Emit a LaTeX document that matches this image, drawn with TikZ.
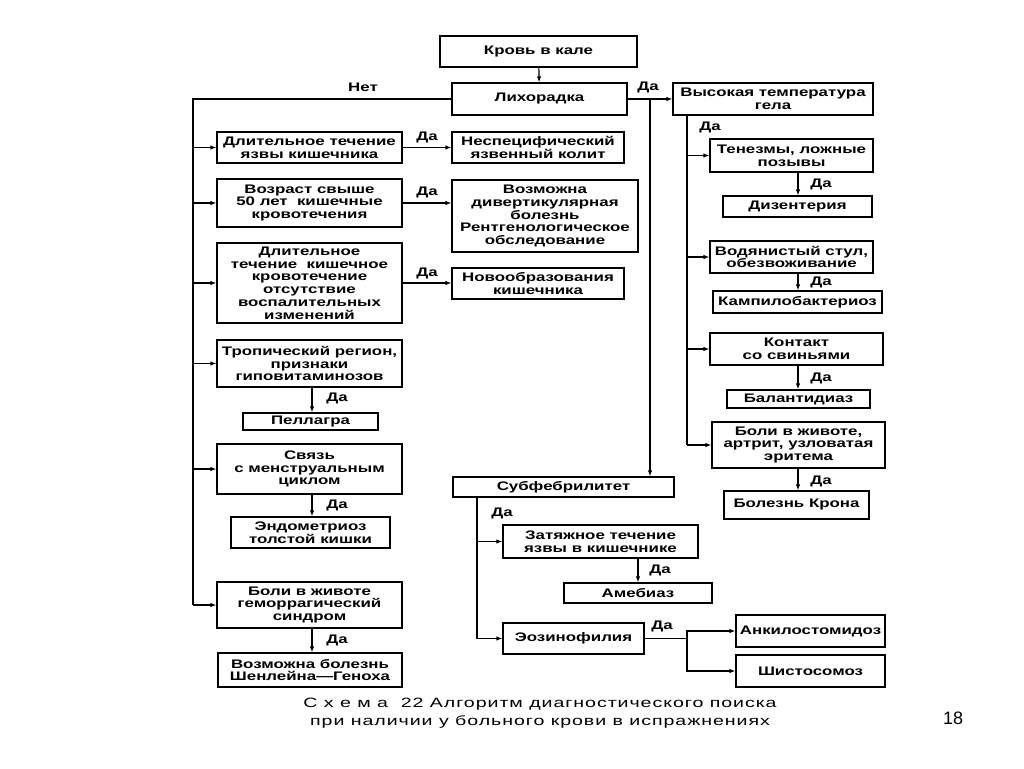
\documentclass[tikz,border=0pt]{standalone}
\usepackage{fontspec}
\usetikzlibrary{arrows.meta}
\newfontfamily\boxfont[FakeStretch=1.36]{Liberation Sans}
\newfontfamily\capfont[FakeStretch=1.45,LetterSpace=7]{Liberation Sans}
\newfontfamily\numfont{Liberation Sans}
\tikzset{
  box/.style={draw, line width=1.2pt, align=center, inner sep=0pt,
    font=\boxfont\bfseries\fontsize{12.4}{12.8}\selectfont},
  ln/.style={line width=1.2pt},
  arr/.style={line width=1.2pt, -{Latex[length=6pt,width=4.5pt]}},
  lbl/.style={font=\boxfont\bfseries\fontsize{12.4}{12.8}\selectfont, inner sep=0pt},
}
\newcommand\bx[6]{\node[box, minimum width={(#4)-(#2)}, minimum height={(#5)-(#3)}] (#1) at ({((#2)+(#4))/2},{((#3)+(#5))/2}) {#6};}
\begin{document}
\begin{tikzpicture}[x=1pt,y=-1pt]
\useasboundingbox (0,0) rectangle (1024,768);
% boxes
\bx{krov}{440}{36}{637}{67}{Кровь в кале}
\bx{lih}{452}{83}{627}{115}{Лихорадка}
\bx{vys}{673}{83}{873}{115}{Высокая температура\\гела}
\bx{dlit}{217}{132}{402}{163}{Длительное течение\\язвы кишечника}
\bx{nesp}{452}{132}{624}{163}{Неспецифический\\язвенный колит}
\bx{vozr}{217}{179}{402}{227}{Возраст свыше\\50 лет\ \ кишечные\\кровотечения}
\bx{divert}{452}{180}{638}{252}{Возможна\\дивертикулярная\\болезнь\\Рентгенологическое\\обследование}
\bx{dlit2}{217}{243}{402}{323}{Длительное\\течение\ \ кишечное\\кровотечение\\отсутствие\\воспалительных\\изменений}
\bx{novo}{452}{268}{624}{299}{Новообразования\\кишечника}
\bx{trop}{217}{340}{402}{387}{Тропический регион,\\признаки\\гиповитаминозов}
\bx{pell}{243}{413}{378}{430}{Пеллагра}
\bx{sv}{217}{444}{402}{494}{Связь\\с менструальным\\циклом}
\bx{endo}{231}{517}{390}{548}{Эндометриоз\\толстой кишки}
\bx{boli}{217}{582}{402}{628}{Боли в животе\\геморрагический\\синдром}
\bx{shen}{218}{653}{402}{687}{Возможна болезнь\\Шенлейна—Геноха}
\bx{ten}{710}{139}{873}{172}{Тенезмы, ложные\\позывы}
\bx{diz}{723}{196}{872}{217}{Дизентерия}
\bx{vod}{710}{241}{873}{273}{Водянистый стул,\\обезвоживание}
\bx{kamp}{713}{291}{882}{313}{Кампилобактериоз}
\bx{kont}{710}{333}{883}{365}{Контакт\\со свиньями}
\bx{bal}{727}{390}{870}{408}{Балантидиаз}
\bx{bolk}{712}{422}{885}{468}{Боли в животе,\\артрит, узловатая\\эритема}
\bx{kron}{724}{491}{869}{519}{Болезнь Крона}
\bx{subf}{453}{477}{674}{497}{Субфебрилитет}
\bx{zat}{503}{525}{698}{558}{Затяжное течение\\язвы в кишечнике}
\bx{ameb}{564}{583}{712}{603}{Амебиаз}
\bx{eoz}{503}{623}{644}{654}{Эозинофилия}
\bx{ankil}{736}{615}{885}{647}{Анкилостомидоз}
\bx{shist}{736}{655}{885}{687}{Шистосомоз}
% guide coordinates
\coordinate (L) at (193,0);
\coordinate (R) at (650,0);
\coordinate (V) at (687,0);
\coordinate (D) at (798,0);
\coordinate (M) at (312,0);
\coordinate (S) at (477,0);
\coordinate (A) at (638,0);
\coordinate (E) at (687,0);
% top
\draw[arr] (krov) -- (lih);
\draw[ln] (lih.west) -| (boli.west -| L);
\node[lbl] (net) at (363,87) {Нет};
\foreach \n in {dlit,vozr,dlit2,trop,sv,boli} \draw[arr] (\n.west -| L) -- (\n.west);
% left horizontal Да
\draw[arr] (dlit.east) -- (dlit.east -| nesp.west);
\draw[arr] (vozr.east) -- (vozr.east -| divert.west);
\draw[arr] (dlit2.east) -- (dlit2.east -| novo.west);
\node[lbl] (d1) at (427,137) {Да};
\node[lbl] (d2) at (427,192) {Да};
\node[lbl] (d3) at (427,273) {Да};
% left down
\draw[arr] (trop.south -| M) -- (pell.north -| M);
\draw[arr] (sv.south -| M) -- (endo.north -| M);
\draw[arr] (boli.south -| M) -- (shen.north -| M);
\node[lbl] (d4) at (337,398) {Да};
\node[lbl] (d5) at (337,505) {Да};
\node[lbl] (d6) at (337,640) {Да};
% right
\draw[arr] (lih.east) -- (vys.west);
\node[lbl] (d7) at (648,87) {Да};
\draw[arr] (lih.east -| R) -- (subf.north -| R);
\draw[ln] (vys.south -| V) -- (bolk.west -| V);
\node[lbl] (d8) at (710,127) {Да};
\foreach \n in {ten,vod,kont,bolk} \draw[arr] (\n.west -| V) -- (\n.west);
\draw[arr] (ten.south -| D) -- (diz.north -| D);
\draw[arr] (vod.south -| D) -- (kamp.north -| D);
\draw[arr] (kont.south -| D) -- (bal.north -| D);
\draw[arr] (bolk.south -| D) -- (kron.north -| D);
\node[lbl] (d9) at (821,184) {Да};
\node[lbl] (d10) at (821,282) {Да};
\node[lbl] (d11) at (821,378) {Да};
\node[lbl] (d12) at (821,481) {Да};
% subfebrilitet
\draw[ln] (subf.south -| S) -- (eoz.west -| S);
\draw[arr] (zat.west -| S) -- (zat.west);
\draw[arr] (eoz.west -| S) -- (eoz.west);
\node[lbl] (d13) at (502,513) {Да};
\draw[arr] (zat.south -| A) -- (ameb.north -| A);
\node[lbl] (d14) at (660,570) {Да};
\draw[ln] (eoz.east) -- (eoz.east -| E);
\draw[arr] (eoz.east -| E) |- (ankil.west);
\draw[arr] (eoz.east -| E) |- (shist.west);
\node[lbl] (d15) at (662,626) {Да};
% caption
\node[font=\capfont\fontsize{13.5}{18}\selectfont, align=center, inner sep=0pt] (cap) at (540,713)
  {С х е м а\ \ 22 Алгоритм диагностического поиска\\при наличии у больного крови в испражнениях};
\node[font=\numfont\fontsize{18}{20}\selectfont, inner sep=0pt] (num) at (953,718) {18};
\end{tikzpicture}
\end{document}
